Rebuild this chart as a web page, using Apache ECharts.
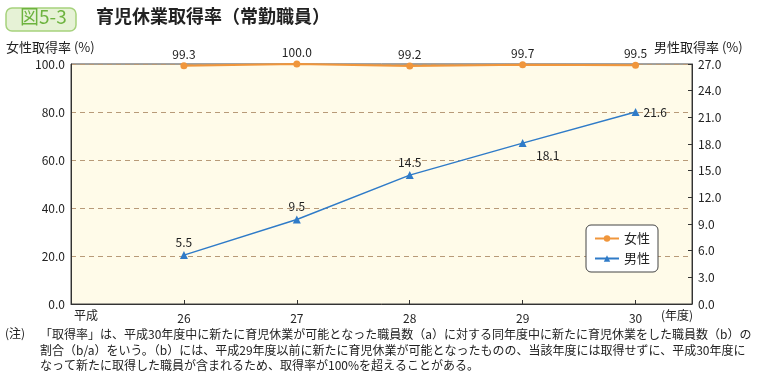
<!DOCTYPE html>
<html><head><meta charset="utf-8">
<script src="https://cdn.jsdelivr.net/npm/echarts@6/dist/echarts.min.js"></script>
<style>html,body{margin:0;padding:0;background:#fff}#c{width:760px;height:375px}</style>
</head><body><div id="c"></div>
<script>
const years = [26, 27, 28, 29, 30];
const femaleRate = [99.3, 100.0, 99.2, 99.7, 99.5];
const maleRate = [5.5, 9.5, 14.5, 18.1, 21.6];
const leftTicks = [0, 20, 40, 60, 80, 100];
const rightTicks = [0, 3, 6, 9, 12, 15, 18, 21, 24, 27];
const notes = [
  '「取得率」は、平成30年度中に新たに育児休業が可能となった職員数（a）に対する同年度中に新たに育児休業をした職員数（b）の',
  '割合（b/a）をいう。（b）には、平成29年度以前に新たに育児休業が可能となったものの、当該年度には取得せずに、平成30年度に',
  'なって新たに取得した職員が含まれるため、取得率が100%を超えることがある。'
];
const FONT = '"Noto Sans CJK JP", "Noto Sans", sans-serif';
const chart = echarts.init(document.getElementById('c'));
const maleLabelPos = ['top', 'top', 'top', 'bottom', 'right'];
chart.setOption({
  animation: false,
  textStyle: { fontFamily: FONT },
  grid: { left: 71, right: 68, top: 64, bottom: 71, show: true, backgroundColor: '#FFFBE9', borderColor: '#444', borderWidth: 1 },
  xAxis: {
    type: 'value', min: 25, max: 30.5, interval: 1,
    axisLine: { show: true, lineStyle: { color: '#333' } },
    axisTick: { show: true, inside: true, length: 4, lineStyle: { color: '#333' } },
    splitLine: { show: false },
    axisLabel: { color: '#222', fontSize: 12, fontFamily: FONT, margin: 8,
      formatter: v => (years.indexOf(v) >= 0 ? String(v) : '') },
  },
  yAxis: [
    { type: 'value', min: 0, max: 100, interval: 20,
      axisLine: { show: true, lineStyle: { color: '#333' } },
      axisTick: { show: false },
      splitLine: { show: true, lineStyle: { color: '#B89A78', type: [5, 4], width: 1 } },
      axisLabel: { color: '#222', fontSize: 12, fontFamily: FONT, margin: 6, formatter: v => v.toFixed(1) } },
    { type: 'value', min: 0, max: 27, interval: 3, position: 'right',
      axisLine: { show: true, lineStyle: { color: '#333' } },
      axisTick: { show: true, inside: true, length: 4, lineStyle: { color: '#333' } },
      splitLine: { show: false },
      axisLabel: { color: '#222', fontSize: 12, fontFamily: FONT, margin: 6, formatter: v => v.toFixed(1) } }
  ],
  legend: {
    right: 102, top: 225, orient: 'vertical', itemGap: 7, itemWidth: 24, itemHeight: 8,
    backgroundColor: '#fff', borderColor: '#444', borderWidth: 1, borderRadius: 5, padding: [7, 8, 7, 8],
    textStyle: { fontSize: 13, color: '#222', fontFamily: FONT },
    data: ['女性', '男性']
  },
  series: [
    { name: '女性', type: 'line', yAxisIndex: 0,
      data: years.map((y, i) => [y, femaleRate[i]]),
      symbol: 'circle', symbolSize: 7,
      itemStyle: { color: '#F0963C' }, lineStyle: { color: '#F0963C', width: 2 },
      label: { show: true, position: 'top', distance: 2, color: '#222', fontSize: 12, fontFamily: FONT, formatter: p => p.value[1].toFixed(1) } },
    { name: '男性', type: 'line', yAxisIndex: 1,
      data: years.map((y, i) => ({ value: [y, maleRate[i]], label: { position: maleLabelPos[i], distance: maleLabelPos[i] === 'right' ? 4 : 3, offset: maleLabelPos[i] === 'bottom' ? [25, -1] : [0, 0] } })),
      symbol: 'triangle', symbolSize: 8,
      itemStyle: { color: '#2F7BC8' }, lineStyle: { color: '#2F7BC8', width: 1.5 },
      label: { show: true, color: '#222', fontSize: 12, fontFamily: FONT, formatter: p => p.value[1].toFixed(1) } }
  ],
  graphic: [
    { type: 'rect', shape: { x: 6, y: 8, width: 70, height: 23, r: 6 }, style: { fill: '#E6F2D6', stroke: '#A6D27C', lineWidth: 1.5 } },
    { type: 'text', left: 20, top: 7, style: { text: '図5-3', fontSize: 19, fill: '#6DB33F', fontFamily: FONT } },
    { type: 'text', left: 96, top: 7, style: { text: '育児休業取得率（常勤職員）', fontSize: 18, fontWeight: 'bold', fill: '#222', fontFamily: FONT } },
    { type: 'text', left: 6, top: 41, style: { text: '女性取得率 (%)', fontSize: 13, fill: '#222', fontFamily: FONT } },
    { type: 'text', left: 654, top: 41, style: { text: '男性取得率 (%)', fontSize: 13, fill: '#222', fontFamily: FONT } },
    { type: 'text', left: 74, top: 309, style: { text: '平成', fontSize: 12, fill: '#222', fontFamily: FONT } },
    { type: 'text', left: 661, top: 309, style: { text: '(年度)', fontSize: 12, fill: '#222', fontFamily: FONT } },
    { type: 'text', left: 5, top: 327, style: { text: '(注)', fontSize: 12, fill: '#222', fontFamily: FONT } },
    { type: 'text', left: 40, top: 327, style: { text: notes.join('\n'), fontSize: 12, lineHeight: 15.5, fill: '#222', fontFamily: FONT } }
  ]
});
</script></body></html>
